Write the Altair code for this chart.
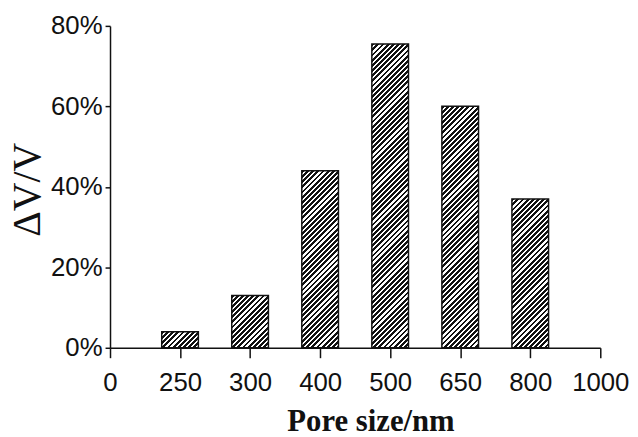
import json
import math
import altair as alt
import pandas as pd

# ---- data ----
pore_sizes = ["250", "300", "400", "500", "650", "800"]
positions = [1, 2, 3, 4, 5, 6]
dv_v = [4, 13, 44, 75.5, 60, 37]          # percent
x_tick_labels = ["0", "250", "300", "400", "500", "650", "800", "1000"]
y_ticks = [0, 20, 40, 60, 80]

# ---- layout / style ----
W, H = 495, 325
Y_MAX = 80
BAR_W = 37
PERIOD = 5.2
DARK = 0.55
LABEL_FONT = "Liberation Sans Narrow, Liberation Sans, Arial, sans-serif"
SERIF = "Liberation Serif, Times New Roman, serif"

df = pd.DataFrame({"size": pore_sizes, "pos": positions, "value": dv_v})


def hatch(value):
    """Diagonal '/' hatch built as a hard-stop linear gradient (style only)."""
    w = BAR_W
    h = value / Y_MAX * H
    total = w + h
    k = total / (w * w + h * h)
    n = int(math.ceil(total / PERIOD))
    stops = []
    for i in range(n):
        a = min(1.0, i * PERIOD / total)
        b = min(1.0, (i + DARK) * PERIOD / total)
        c = min(1.0, (i + 1) * PERIOD / total)
        stops += [
            alt.GradientStop(offset=a, color="#111111"),
            alt.GradientStop(offset=b, color="#111111"),
            alt.GradientStop(offset=b, color="#ffffff"),
            alt.GradientStop(offset=c, color="#ffffff"),
        ]
    return alt.LinearGradient(gradient="linear", stops=stops,
                              x1=0, y1=0, x2=k * w, y2=k * h)


label_expr = json.dumps(x_tick_labels) + "[datum.value]"

x_enc = alt.X(
    "pos:Q",
    scale=alt.Scale(domain=[0, 7], nice=False, zero=False, padding=0),
    axis=alt.Axis(
        values=list(range(len(x_tick_labels))),
        labelExpr=label_expr,
        title="Pore size/nm",
        grid=False,
        tickSize=10,
        labelPadding=12,
        labelFlush=False,
        labelOverlap=False,
        labelFont=LABEL_FONT,
        labelFontSize=26,
        labelColor="#111111",
        domainColor="#111111",
        tickColor="#111111",
        domainWidth=1.5,
        tickWidth=1.5,
        titleFont=SERIF,
        titleFontSize=31,
        titleFontWeight="bold",
        titleColor="#111111",
        titleX=263,
        titleY=84,
        titleAlign="center",
        titleBaseline="alphabetic",
    ),
)

y_enc = alt.Y(
    "value:Q",
    scale=alt.Scale(domain=[0, Y_MAX], nice=False, padding=0),
    axis=alt.Axis(
        values=y_ticks,
        labelExpr="datum.value + '%'",
        title="ΔV/V",
        grid=False,
        tickSize=5,
        labelPadding=3,
        labelFont=LABEL_FONT,
        labelFontSize=26,
        labelColor="#111111",
        domainColor="#111111",
        tickColor="#111111",
        domainWidth=1.5,
        tickWidth=1.5,
        titleFont=SERIF,
        titleFontSize=40,
        titleFontWeight="normal",
        titleColor="#111111",
        titleAngle=270,
        titleX=-71,
        titleY=165,
        titleAlign="center",
        titleBaseline="alphabetic",
    ),
)

base = alt.Chart(df).encode(x=x_enc, y=y_enc)

layers = []
for size, val in zip(pore_sizes, dv_v):
    layers.append(
        base.transform_filter(alt.datum.size == size).mark_bar(
            width=BAR_W,
            fill=hatch(val),
            stroke="#111111",
            strokeWidth=1.5,
        )
    )

chart = alt.layer(*layers).properties(
    width=W,
    height=H,
    autosize=alt.AutoSizeParams(type="none"),
    padding={"left": 103, "top": 16, "right": 30, "bottom": 86},
    background="white",
).configure_view(stroke=None)

chart.save("out.html", embed_options={"renderer": "svg", "actions": False})
